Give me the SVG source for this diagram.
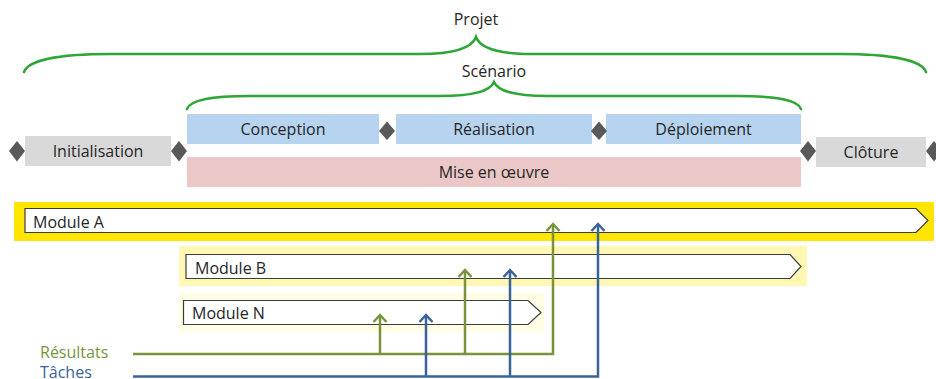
<svg xmlns="http://www.w3.org/2000/svg" width="936" height="379" viewBox="0 0 936 379">
<style>
text{font-family:"Open Sans","Noto Sans","Liberation Sans",sans-serif;font-size:16px;fill:#262626}
.c{text-anchor:middle}
.brace{fill:none;stroke:#2EA636;stroke-width:2.5;stroke-linecap:round}
.phase{fill:#D9D9D9}
.sub{fill:#B6D3EF}
.impl{fill:#EBC8C7}
.ms{fill:#595959}
.mod{fill:#fff;stroke:#3c3c3c;stroke-width:1.2}
.g{fill:none;stroke:#77933C;stroke-width:2.5}
.b{fill:none;stroke:#3A6398;stroke-width:2.5}
</style>
<defs>
<marker id="ag" markerUnits="userSpaceOnUse" markerWidth="20" markerHeight="20" viewBox="-10 -10 20 20" refX="0" refY="0" orient="auto" overflow="visible">
<path d="M-7,-6.5 L0,0 L-7,6.5" fill="none" stroke="#77933C" stroke-width="2.5"/>
</marker>
<marker id="ab" markerUnits="userSpaceOnUse" markerWidth="20" markerHeight="20" viewBox="-10 -10 20 20" refX="0" refY="0" orient="auto" overflow="visible">
<path d="M-7,-6.5 L0,0 L-7,6.5" fill="none" stroke="#3A6398" stroke-width="2.5"/>
</marker>
</defs>

<g id="projet">
<path class="brace" d="M24,72 C28,60 60,54 110,54 L420,54 C455,54 472,48 476,37 C480,48 497,54 532,54 L840,54 C890,54 922,60 926,72"/>
<text class="c" x="476" y="25">Projet</text>
</g>
<g id="scenario">
<path class="brace" d="M187,109 C190,100 210,96 250,96 L440,96 C475,96 490,91 494,82 C498,91 513,96 548,96 L738,96 C778,96 798,100 801,109"/>
<text class="c" x="494" y="77">Scénario</text>
</g>

<g id="initialisation">
<rect class="phase" x="25" y="136" width="146" height="30"/>
<text class="c" x="98" y="157">Initialisation</text>
</g>
<g id="conception">
<rect class="sub" x="187" y="114" width="192" height="30"/>
<text class="c" x="283" y="135">Conception</text>
</g>
<g id="realisation">
<rect class="sub" x="396" y="114" width="196" height="30"/>
<text class="c" x="494" y="135">Réalisation</text>
</g>
<g id="deploiement">
<rect class="sub" x="606" y="114" width="195" height="30"/>
<text class="c" x="703.5" y="135">Déploiement</text>
</g>
<g id="miseenoeuvre">
<rect class="impl" x="187" y="157" width="614" height="30"/>
<text class="c" x="494" y="178">Mise en œuvre</text>
</g>
<g id="cloture">
<rect class="phase" x="816" y="137" width="110" height="30"/>
<text class="c" x="871" y="158">Clôture</text>
</g>

<g id="milestones">
<polygon class="ms" points="17,141 25,151 17,161.5 9,151"/>
<polygon class="ms" points="179,141 187,151 179,161.5 171,151"/>
<polygon class="ms" points="387,121.5 395,131 387,140 379,131"/>
<polygon class="ms" points="599,121.5 607,131 599,140 591,131"/>
<polygon class="ms" points="808,141 816,151 808,161.5 800,151"/>
<polygon class="ms" points="934,141 942,151 934,161.5 926,151"/>
</g>

<g id="moduleA">
<rect x="14" y="202" width="920" height="39" fill="#FFE500"/>
<polygon class="mod" points="25,208.5 916,208.5 928,220.5 916,232.5 25,232.5"/>
<text x="33" y="227.5">Module A</text>
</g>
<g id="moduleB">
<rect x="179" y="246" width="628" height="40" fill="#FFF8B5"/>
<polygon class="mod" points="186,254.5 790,254.5 801,266.5 790,278.5 186,278.5"/>
<text x="195" y="273.5">Module B</text>
</g>
<g id="moduleN">
<rect x="179" y="293" width="365" height="39" fill="#FFFDE3"/>
<polygon class="mod" points="183.5,300.5 528,300.5 541,312.5 528,324.5 183.5,324.5"/>
<text x="192" y="319">Module N</text>
</g>

<g id="resultats">
<text x="40" y="358" style="fill:#77933C">Résultats</text>
</g>
<g id="taches">
<text x="40" y="377.5" style="fill:#3A6398">Tâches</text>
</g>

<g id="connectors">
<path class="g" d="M133,354 H553 V224" marker-end="url(#ag)"/>
<path class="g" d="M380,354 V315" marker-end="url(#ag)"/>
<path class="g" d="M465,354 V270" marker-end="url(#ag)"/>
<path class="b" d="M133,376.5 H598 V224" marker-end="url(#ab)"/>
<path class="b" d="M426,376.5 V315" marker-end="url(#ab)"/>
<path class="b" d="M510,376.5 V270" marker-end="url(#ab)"/>
</g>
</svg>
